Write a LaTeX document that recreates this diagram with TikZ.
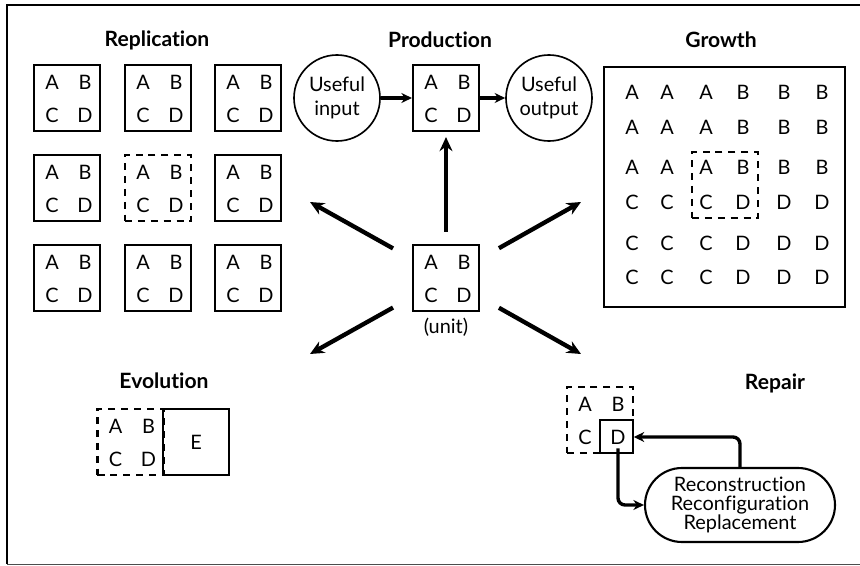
\documentclass[tikz,border=0pt]{standalone}
\usepackage{fontspec}
\setmainfont{Lato}[Ligatures={NoCommon,NoRare}]
\usetikzlibrary{arrows.meta,shapes.misc}

\newcommand{\abcd}[1]{%
\node (#1-a) at ([shift={(-15,-16)}]#1.center) {A};
\node (#1-b) at ([shift={(18,-16)}]#1.center) {B};
\node (#1-c) at ([shift={(-15,17)}]#1.center) {C};
\node (#1-d) at ([shift={(18,17)}]#1.center) {D};}

\begin{document}
\begin{tikzpicture}[x=0.03cm,y=-0.03cm,
  font=\fontsize{17}{20}\selectfont,
  box/.style={draw,line width=1.8pt,minimum size=1.98cm,inner sep=0pt},
  dbox/.style={box,dash pattern=on 6pt off 5pt},
  circ/.style={draw,circle,line width=1.4pt,minimum size=2.58cm,inner sep=0pt,
    align=center,font=\fontsize{17}{21}\selectfont},
  stadium/.style={draw,rounded rectangle,line width=1.8pt,minimum width=5.7cm,
    minimum height=2.22cm,inner sep=0pt,align=center,font=\fontsize{17}{16.5}\selectfont},
  title/.style={font=\fontsize{18}{20}\selectfont\bfseries},
  bigarrow/.style={line width=3.7pt,-{Stealth[length=12pt,width=11pt]}},
  smallarrow/.style={line width=2.9pt,-{Stealth[length=9pt,width=8.5pt]}}]
\useasboundingbox (0,0) rectangle (860,566);
\draw[line width=2.2pt] (860,5) -- (7,5) -- (7,564);
\draw[line width=.7pt,black!70] (7,564) -- (860,564);

\node[title] (t-rep) at (157,40) {Replication};
\node[title] (t-prod) at (440,40) {Production};
\node[title] (t-grow) at (721,40) {Growth};
\node[title] (t-evol) at (164,381) {Evolution};
\node[title] (t-repair) at (775,383) {Repair};

\foreach \i/\x in {0/67,1/158,2/248}
  \foreach \j/\y in {0/98,1/188,2/278}{
    \ifnum\i\j=11 \def\bs{dbox}\else\def\bs{box}\fi
    \node[\bs] (r-\i-\j) at (\x,\y) {};
    \abcd{r-\i-\j}
  }

\node[box] (prod) at (446,98) {};
\abcd{prod}
\node[circ] (input) at (337,98) {Useful\\input};
\node[circ] (output) at (549,98) {Useful\\output};
\draw[smallarrow] (input) -- (prod);
\draw[smallarrow] (prod) -- (output);

\node[box] (unit) at (446,278) {};
\abcd{unit}
\node (unit-lbl) at (446,327) {(unit)};
\draw[bigarrow,shorten <=.36cm,shorten >=.15cm] (unit) -- (prod);

\coordinate (rep-end) at (310,202);
\coordinate (grow-end) at (581,202);
\coordinate (evol-end) at (310,354);
\coordinate (repair-end) at (581,354);
\foreach \e in {rep-end,grow-end,evol-end,repair-end}
  \draw[bigarrow,shorten <=.65cm] (unit) -- (\e);

\node[box,minimum width=7.23cm,minimum height=7.2cm] (grow) at (724.5,187) {};
\node[dbox] (g-core) at (725,185) {};
\foreach \y/\l/\r in {92/A/B,127/A/B,167/A/B,202/C/D,243/C/D,277/C/D}{
  \foreach \x in {632,667,706} \node (g-\x-\y) at (\x,\y) {\l};
  \foreach \x in {743,784,822} \node (g-\x-\y) at (\x,\y) {\r};
}

\node[dbox] (evol) at (130.5,442) {};
\abcd{evol}
\node[box] (evol-e) at (196,442) {E};

\node[dbox] (rpr) at (600,420) {};
\node[box,minimum size=.99cm,fill=white] (rpr-d) at (616.5,436.5) {};
\abcd{rpr}
\node[stadium] (recon) at (740,505) {Reconstruction\\Reconfiguration\\Replacement};
\draw[smallarrow,rounded corners=6pt,shorten >=.12cm] (recon.north) |- (rpr-d.east);
\draw[smallarrow,rounded corners=6pt] (rpr-d.south) |- (recon.west);
\end{tikzpicture}
\end{document}
